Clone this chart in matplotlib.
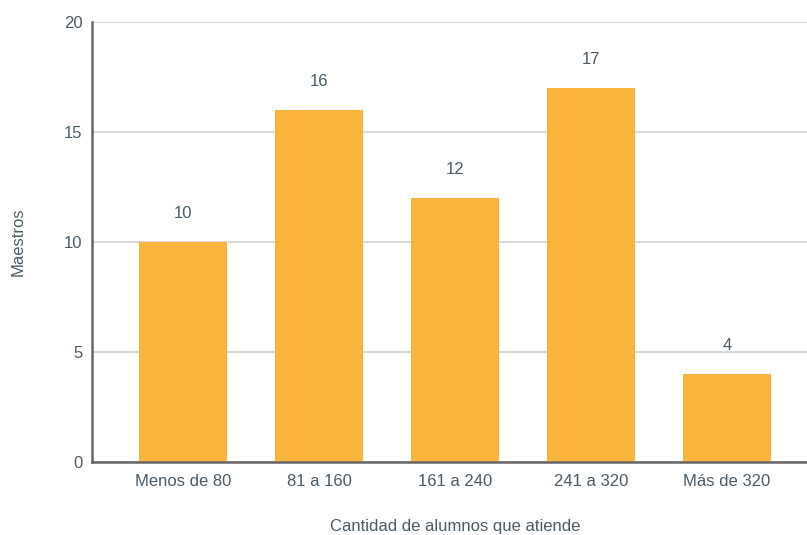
import matplotlib
matplotlib.use("Agg")
import matplotlib.pyplot as plt

categorias = ["Menos de 80", "81 a 160", "161 a 240", "241 a 320", "Más de 320"]
maestros = [10, 16, 12, 17, 4]

color_barra = "#F9B43B"
color_texto = "#4B5B66"

plt.rcParams['font.family'] = ['Liberation Sans', 'DejaVu Sans']

fig = plt.figure(figsize=(8.07, 5.35), dpi=100)
ax = fig.add_axes([92 / 807, 73 / 535, 1 - 92 / 807, 440 / 535])

x = range(len(categorias))
barras = ax.bar(x, maestros, width=0.65, color=color_barra, zorder=3)

for b, v in zip(barras, maestros):
    ax.annotate(str(v), (b.get_x() + b.get_width() / 2, v),
                xytext=(0, 15), textcoords="offset points",
                ha="center", va="bottom", fontsize=12, color=color_texto)

ax.set_xlim(-0.67, 4.59)
ax.set_ylim(0, 20)
ax.set_yticks([0, 5, 10, 15, 20])
ax.set_xticks(list(x))
ax.set_xticklabels(categorias)
ax.grid(axis="y", color="#D9D9D9", linewidth=1.5, zorder=0)
ax.tick_params(axis="both", length=0, labelsize=12, colors=color_texto)
ax.tick_params(axis="x", pad=9)
ax.tick_params(axis="y", pad=7)

for lado in ["top", "right"]:
    ax.spines[lado].set_visible(False)
for lado in ["left", "bottom"]:
    ax.spines[lado].set_color("#666666")
    ax.spines[lado].set_linewidth(1.8)
    ax.spines[lado].set_zorder(4)

ax.set_ylabel("Maestros", fontsize=12, color=color_texto)
ax.set_xlabel("Cantidad de alumnos que atiende", fontsize=12, color=color_texto)
ax.yaxis.set_label_coords(-(92 - 26) / (807 - 92), 0.5)
ax.xaxis.set_label_coords((455 - 92) / (807 - 92), -(519 - 462) / 440)

fig.savefig("out.png", dpi=100)
